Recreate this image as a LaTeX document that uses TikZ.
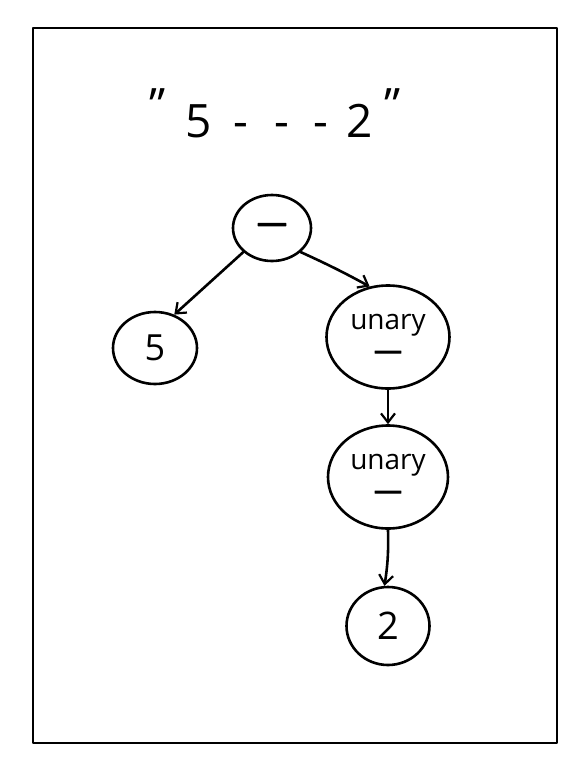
\documentclass[tikz,border=0pt]{standalone}
\usepackage{fontspec}
\setmainfont{Open Sans}
\newfontfamily\dashfont[FakeBold=4]{Open Sans}
\usetikzlibrary{shapes.geometric,arrows.meta}
\begin{document}
\begin{tikzpicture}[x=1pt,y=-1pt,
  ink/.style={line width=2.6pt,line cap=round,line join=round},
  tnode/.style={ellipse,draw,ink,inner sep=0pt},
  conn/.style={ink,-{Straight Barb[length=9pt,width=14pt,line width=2.2pt]}},
  big/.style={font=\fontsize{46}{46}\selectfont},
  lab/.style={font=\fontsize{28}{28}\selectfont,align=center}
]
\useasboundingbox (0,0) rectangle (588,768);
\draw[ink] (33,28) rectangle (557,743);
\node[big,anchor=base] (title) at (275,137)
  {\raisebox{16pt}{"}\hspace{20pt}5\hspace{22pt}-\hspace{26pt}-\hspace{24pt}-\hspace{18pt}2\hspace{12pt}\raisebox{16pt}{"}};
\node[tnode,minimum width=78pt,minimum height=66pt,font=\fontsize{30}{30}\dashfont] (root) at (272,228) {—};
\node[tnode,minimum width=84pt,minimum height=72pt,font=\fontsize{36}{36}\selectfont] (five) at (155,348) {5};
\node[tnode,minimum width=123pt,minimum height=103pt,lab] (u1) at (388,337) {unary\\[2pt]{\dashfont —}};
\node[tnode,minimum width=120pt,minimum height=103pt,lab] (u2) at (388,477) {unary\\[2pt]{\dashfont —}};
\node[tnode,minimum width=83pt,minimum height=78pt,font=\fontsize{38}{38}\selectfont] (two) at (388,626) {2};
\draw[conn] (root.220) -- (five.60);
\draw[conn] (root.-40) to[bend left=2] (u1.110);
\draw[conn] (u1.south) -- (u2.north);
\draw[conn] (u2.south) to[bend left=5] (two.95);
\end{tikzpicture}
\end{document}
